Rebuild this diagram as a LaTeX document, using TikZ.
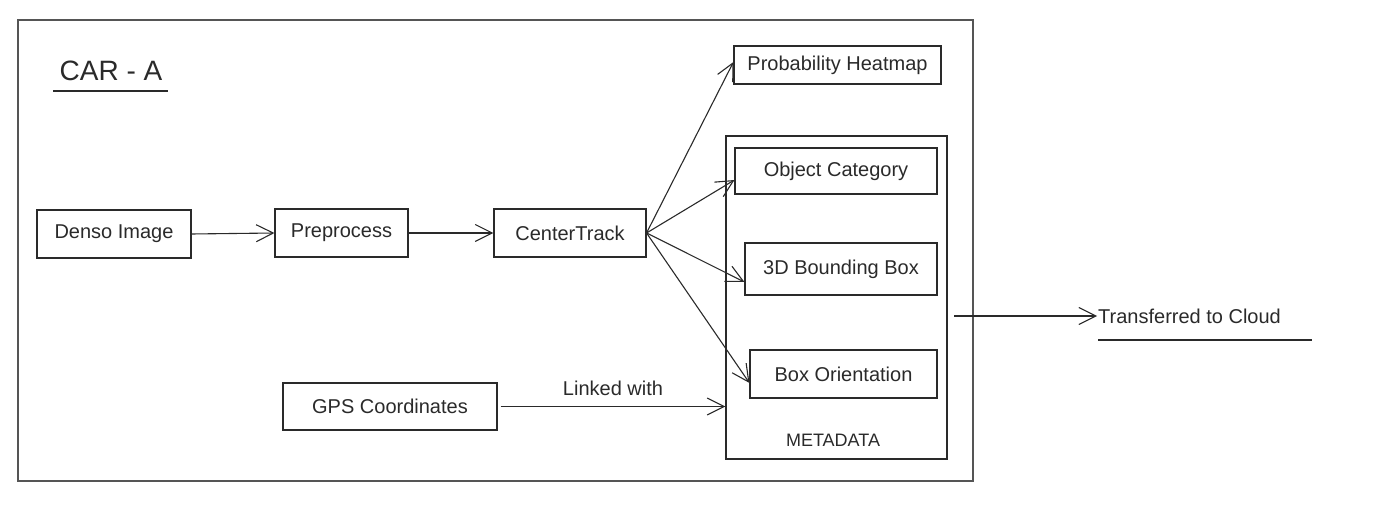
\documentclass[tikz,border=0pt]{standalone}
\usepackage{fontspec}
\setmainfont{Liberation Sans}
\usetikzlibrary{arrows.meta,calc}
\definecolor{ink}{HTML}{2A2A2A}
\definecolor{frame}{HTML}{555555}
\tikzset{
  box/.style={draw=ink, line width=1.1pt, inner sep=0pt, text=ink,
    font=\fontsize{20}{24}\selectfont},
  container/.style={draw=frame, line width=1.1pt, inner sep=0pt},
  conn/.style={draw=ink, line width=1.1pt,
    -{Straight Barb[length=17pt,width=17pt,line width=1.1pt]}},
  lbl/.style={text=ink, inner sep=1pt, font=\fontsize{20}{24}\selectfont},
}
\begin{document}
\begin{tikzpicture}[x=1pt,y=-1pt]
\useasboundingbox (0,0) rectangle (1385,510);
% outer frame
\node[container, minimum width=955pt, minimum height=461pt] (outer) at (495.5,250.5) {};
% title
\node[lbl, font=\fontsize{28}{32}\selectfont] (title) at (111,71) {CAR - A};
\draw[ink, line width=1.1pt] (53,91) -- (168,91);
% nodes
\node[box, minimum width=154pt, minimum height=48pt] (denso) at (114,234) {Denso Image};
\node[box, minimum width=133pt, minimum height=48pt] (pre) at (341.5,233) {Preprocess};
\node[box, minimum width=152pt, minimum height=48pt] (ct) at (570,233) {CenterTrack};
\node[box, minimum width=207pt, minimum height=38pt] (prob) at (837.5,65) {Probability Heatmap};
\node[container, draw=ink, minimum width=221pt, minimum height=323pt] (meta) at (836.5,297.5) {};
\node[box, minimum width=202pt, minimum height=46pt] (obj) at (836,171) {Object Category};
\node[box, minimum width=192pt, minimum height=52pt] (bbox) at (841,269) {3D Bounding Box};
\node[box, minimum width=187pt, minimum height=48pt] (orient) at (843.5,374) {Box Orientation};
\node[lbl, font=\fontsize{18}{22}\selectfont] (metalbl) at (833,440) {METADATA};
\node[box, minimum width=214pt, minimum height=47pt] (gps) at (390,406.5) {GPS Coordinates};
\node[lbl, anchor=west] (cloud) at (1097,316) {Transferred to Cloud};
\coordinate (cloudstart) at (954,316);
% connectors
\draw[conn] (denso.east) -- (pre.west);
\draw[conn] (pre.east) -- (ct.west);
\draw[conn] (ct.east) -- ([yshift=3pt]prob.west);
\draw[conn] (ct.east) -- ([yshift=-9pt]obj.west);
\draw[conn] (ct.east) -- ([yshift=-13pt]bbox.west);
\draw[conn] (ct.east) -- ([yshift=-9pt]orient.west);
\draw[conn] ([xshift=3pt]gps.east) -- node[lbl, above=9pt] (linked) {Linked with} (meta.west |- gps.east);
\draw[conn] (cloudstart) -- (cloud.west);
\draw[ink, line width=1.1pt] (1098,340) -- (1312,340);
\end{tikzpicture}
\end{document}
